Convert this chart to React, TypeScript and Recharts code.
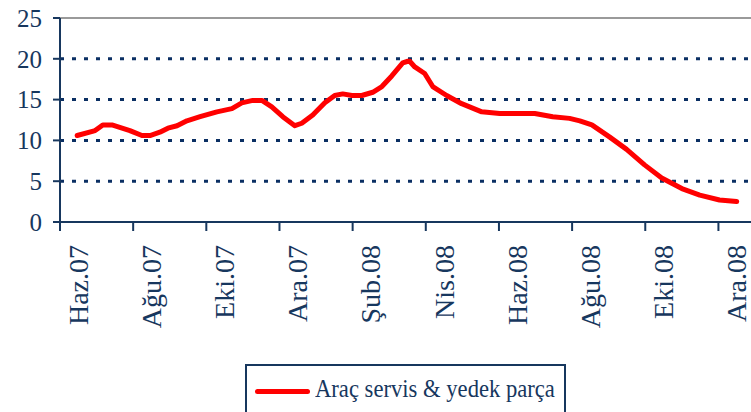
import React from "react";
import { Line, LineChart, ReferenceLine, XAxis, YAxis } from "recharts";

// months since Haz.07 (x) and index value (y)
const months = [
  0.47, 0.96, 1.17, 1.42, 1.91, 2.24, 2.46, 2.73, 2.95, 3.2, 3.47, 3.83, 4.29, 4.7, 4.97,
  5.27, 5.52, 5.79, 6.09, 6.42, 6.61, 6.91, 7.24, 7.51, 7.73, 7.98, 8.25, 8.55, 8.8, 9.07,
  9.37, 9.51, 9.56, 9.7, 9.97, 10.19, 10.57, 10.98, 11.53, 12.02, 12.49, 12.98, 13.47, 13.93,
  14.21, 14.54, 15.03, 15.49, 15.98, 16.45, 17.0, 17.49, 18.03, 18.5,
];
const values = [
  10.6, 11.2, 11.9, 11.9, 11.2, 10.6, 10.6, 11.0, 11.5, 11.8, 12.4, 12.9, 13.5, 13.9, 14.6,
  14.9, 14.9, 14.1, 12.9, 11.8, 12.1, 13.1, 14.6, 15.5, 15.7, 15.5, 15.5, 15.9, 16.6, 17.9,
  19.5, 19.7, 19.7, 19.0, 18.2, 16.6, 15.5, 14.5, 13.5, 13.3, 13.3, 13.3, 12.9, 12.7,
  12.4, 11.9, 10.4, 8.9, 7.0, 5.4, 4.1, 3.3, 2.7, 2.5,
];
const tickMonths = [0, 2, 4, 6, 8, 10, 12, 14, 16, 18];
const tickLabels = [
  "Haz.07", "Ağu.07", "Eki.07", "Ara.07", "Şub.08",
  "Nis.08", "Haz.08", "Ağu.08", "Eki.08", "Ara.08",
];
const yTicks = [0, 5, 10, 15, 20, 25];
const seriesName = "Araç servis & yedek parça";

const data = months.map((m, i) => ({ m, v: values[i] }));

const navy = "#17375e";
const font = "'Liberation Serif', 'Times New Roman', serif";
const halfMonth = 695 / 19 / 2;

const MonthTick = (props: any) => {
  const { x, y, payload } = props;
  const idx = tickMonths.indexOf(payload.value);
  return (
    <text
      x={x + halfMonth}
      y={y}
      transform={`rotate(-90 ${x + halfMonth} ${y})`}
      textAnchor="end"
      dy="0.34em"
      fill={navy}
      fontSize={28}
      fontFamily={font}
    >
      {tickLabels[idx]}
    </text>
  );
};

export default function App() {
  return (
    <div
      style={{
        position: "absolute",
        left: 0,
        top: 0,
        width: 751,
        height: 412,
        overflow: "hidden",
        background: "#fff",
      }}
    >
      <LineChart width={760} height={340} data={data} margin={{ top: 18, right: 5, left: 0, bottom: 0 }}>
        {yTicks.slice(1, -1).map((t) => (
          <ReferenceLine key={t} y={t} stroke="#0b2f63" strokeWidth={3} strokeDasharray="4 8" />
        ))}
        <ReferenceLine y={25} stroke="#9a9a9a" strokeWidth={2} />
        <XAxis
          dataKey="m"
          type="number"
          domain={[0, 19]}
          ticks={tickMonths}
          height={118}
          tickSize={9}
          tickMargin={14}
          axisLine={{ stroke: navy, strokeWidth: 2 }}
          tickLine={{ stroke: navy, strokeWidth: 2 }}
          tick={<MonthTick />}
          interval={0}
        />
        <YAxis
          domain={[0, 25]}
          ticks={yTicks}
          width={60}
          tickSize={7}
          tickMargin={11}
          axisLine={{ stroke: navy, strokeWidth: 2 }}
          tickLine={{ stroke: navy, strokeWidth: 2 }}
          tick={{ fill: navy, fontSize: 25, fontFamily: font }}
          interval={0}
        />
        <Line
          type="linear"
          dataKey="v"
          stroke="#ff0000"
          strokeWidth={5}
          strokeLinejoin="round"
          strokeLinecap="round"
          dot={false}
          isAnimationActive={false}
        />
      </LineChart>
      <div
        style={{
          position: "absolute",
          left: 245,
          top: 364,
          width: 321,
          height: 60,
          border: `2px solid ${navy}`,
          boxSizing: "border-box",
          background: "#fff",
        }}
      >
        <div
          style={{
            position: "absolute",
            left: 8,
            top: 23,
            width: 55,
            height: 5,
            borderRadius: 3,
            background: "#ff0000",
          }}
        />
        <span
          style={{
            position: "absolute",
            left: 68,
            top: 8,
            fontFamily: font,
            fontSize: 26,
            color: navy,
            lineHeight: "30px",
            whiteSpace: "nowrap",
            transform: "scaleX(0.87)",
            transformOrigin: "left center",
          }}
        >
          {seriesName}
        </span>
      </div>
    </div>
  );
}
